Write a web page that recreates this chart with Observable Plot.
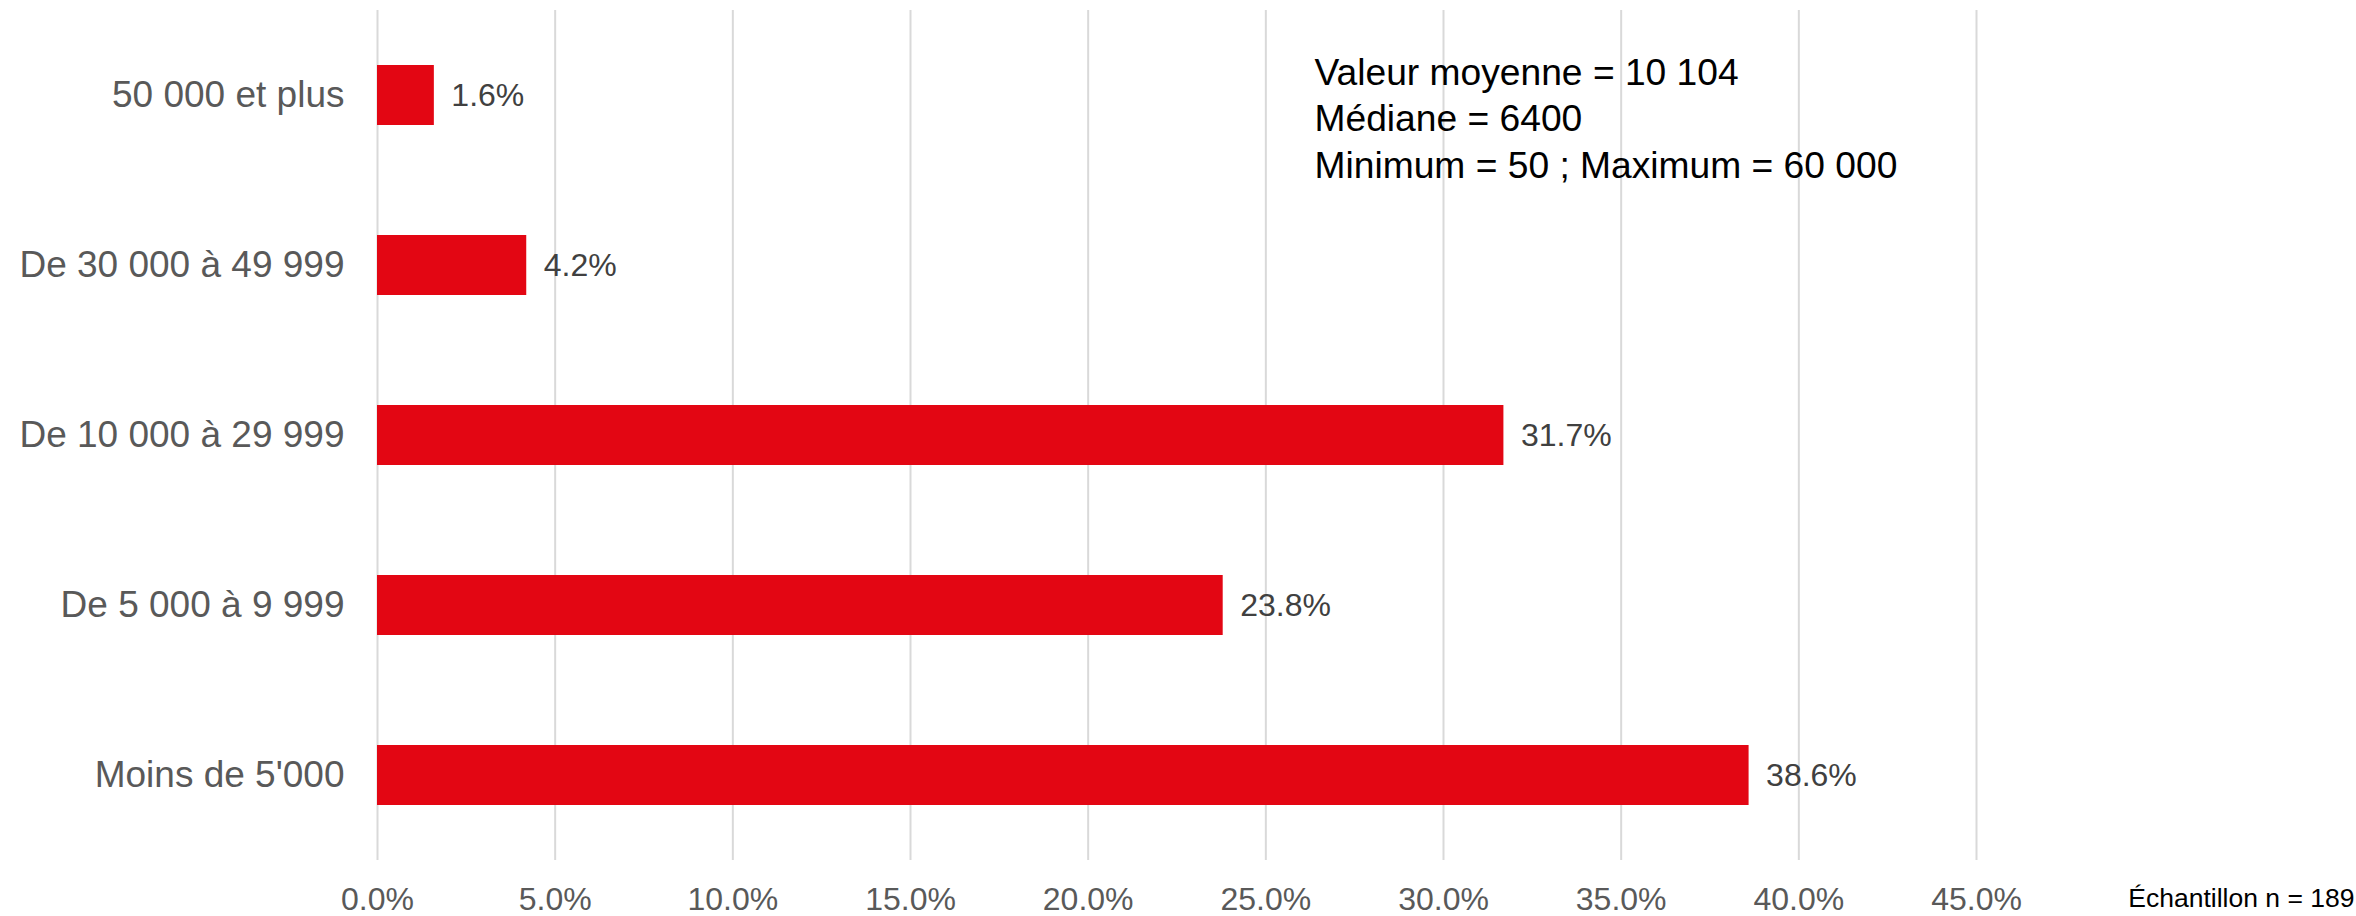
<!DOCTYPE html>
<html>
<head>
<meta charset="utf-8">
<script src="https://cdn.jsdelivr.net/npm/d3@7"></script>
<script src="https://cdn.jsdelivr.net/npm/@observablehq/plot@0.6"></script>
<style>
  html, body { margin: 0; padding: 0; background: #fff; }
  #chart svg { display: block; }
</style>
</head>
<body>
<div id="chart"></div>
<script>
const categories = ["50 000 et plus", "De 30 000 à 49 999", "De 10 000 à 29 999", "De 5 000 à 9 999", "Moins de 5'000"];
const values = [1.6, 4.2, 31.7, 23.8, 38.6];
const xTicks = [0, 5, 10, 15, 20, 25, 30, 35, 40, 45];
const statsLines = ["Valeur moyenne = 10 104", "Médiane = 6400", "Minimum = 50 ; Maximum = 60 000"];
const sampleNote = ["Échantillon n = 189"];

const data = categories.map((c, i) => ({category: c, value: values[i]}));
const fmt = d => d.toFixed(1) + "%";

const chart = Plot.plot({
  width: 2356,
  height: 916,
  marginLeft: 377,
  marginRight: 380,
  marginTop: 10,
  marginBottom: 56,
  style: {fontFamily: "Arial, 'Liberation Sans', sans-serif", background: "#fff", color: "#595959"},
  x: {domain: [0, 45], ticks: xTicks, tickFormat: fmt, label: null},
  y: {domain: categories, paddingInner: 0.647, paddingOuter: 0.3235, label: null},
  marks: [
    Plot.gridX(xTicks, {stroke: "#d9d9d9", strokeOpacity: 1, strokeWidth: 2}),
    Plot.axisX(xTicks, {tickSize: 0, tickPadding: 27, fontSize: 32, fill: "#595959", tickFormat: fmt, label: null}),
    Plot.axisY({tickSize: 0, tickPadding: 33, fontSize: 37, fill: "#595959", label: null}),
    Plot.barX(data, {x: "value", y: "category", fill: "#e30613"}),
    Plot.text(data, {x: "value", y: "category", text: d => fmt(d.value), dx: 17, textAnchor: "start", fill: "#404040", fontSize: 32}),
    Plot.text([statsLines.join("\n")], {frameAnchor: "top-left", dx: 937, dy: 42, lineAnchor: "top", textAnchor: "start", lineHeight: 1.24, fontSize: 37.2, fill: "#000"}),
    Plot.text(sampleNote, {frameAnchor: "bottom-right", dx: 378, dy: 46, lineAnchor: "bottom", textAnchor: "end", fontSize: 26.5, fill: "#000"})
  ]
});
document.getElementById("chart").appendChild(chart);
</script>
</body>
</html>
